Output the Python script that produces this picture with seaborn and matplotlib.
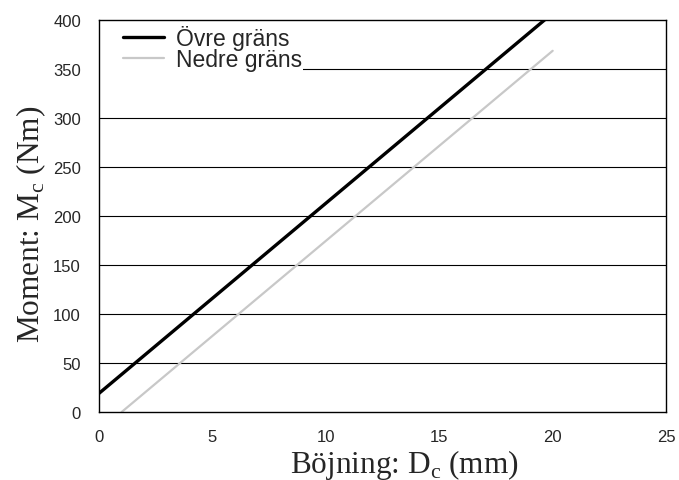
import seaborn as sns
import matplotlib.pyplot as plt
import matplotlib.patches as mpatches
import pandas as pd

# data
upper_x = [0, 20]
upper_y = [19, 407]
lower_x = [1, 20]
lower_y = [0, 368.6]
y_ticks = [0, 50, 100, 150, 200, 250, 300, 350, 400]
x_ticks = [0, 5, 10, 15, 20, 25]

upper = pd.DataFrame({"x": upper_x, "y": upper_y})
lower = pd.DataFrame({"x": lower_x, "y": lower_y})

sns.set_style("white")
plt.rcParams["font.family"] = ["Liberation Sans", "DejaVu Sans"]
plt.rcParams["mathtext.fontset"] = "custom"
plt.rcParams["mathtext.rm"] = "Liberation Serif"

fig = plt.figure(figsize=(6.79, 4.81), dpi=100)
ax = fig.add_axes([0.1458, 0.1414, 0.981 - 0.1458, 0.9563 - 0.1414])

for y in y_ticks[1:-1]:
    ax.axhline(y, color="black", lw=0.8, zorder=0)

# white box behind the legend, hides the grid there
ax.add_patch(mpatches.Rectangle((0, 0.855), 0.36, 0.145, transform=ax.transAxes,
                                facecolor="white", edgecolor="none", zorder=0.5))

sns.lineplot(data=upper, x="x", y="y", color="black", linewidth=2.4,
             label="Övre gräns", ax=ax)
sns.lineplot(data=lower, x="x", y="y", color="#c8c8c8", linewidth=1.6,
             label="Nedre gräns", ax=ax)

ax.set_xlim(0, 25)
ax.set_ylim(0, 400)
ax.set_xticks(x_ticks)
ax.set_yticks(y_ticks)
ax.tick_params(length=0, labelsize=12)
ax.tick_params(axis="y", pad=13)
ax.tick_params(axis="x", pad=12)
for s in ax.spines.values():
    s.set_color("black")
    s.set_linewidth(1)

ax.set_xlabel(r"Böjning: D$_{\mathrm{c}}$ (mm)", family="Liberation Serif", fontsize=22.5)
ax.set_ylabel(r"Moment: M$_{\mathrm{c}}$ (Nm)", family="Liberation Serif", fontsize=22.5)
ax.xaxis.set_label_coords(0.538, -0.09)
ax.yaxis.set_label_coords(-0.09, 0.48)

leg = ax.legend(loc="upper left", bbox_to_anchor=(0.042, 0.988), frameon=False,
                fontsize=16.5, borderaxespad=0, borderpad=0, handlelength=1.8,
                labelspacing=-0.08, handletextpad=0.5)

plt.savefig("out.png", dpi=100)
